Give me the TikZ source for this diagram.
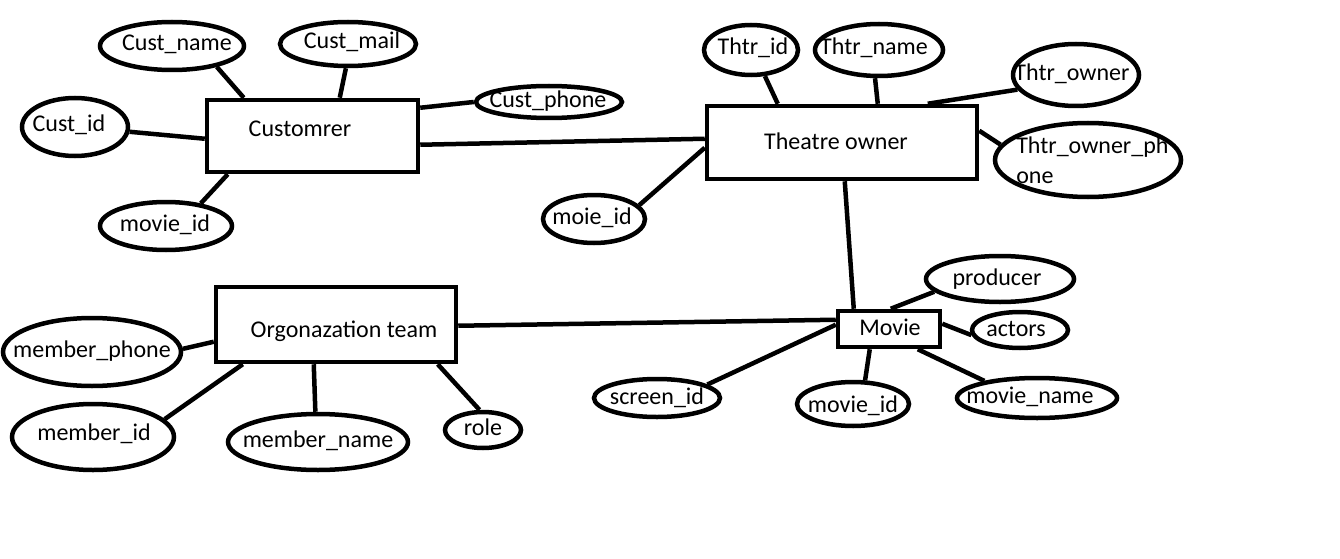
\documentclass[tikz,border=0pt]{standalone}
\usepackage{fontspec}
\setmainfont{Carlito}
\usetikzlibrary{shapes.geometric}
\begin{document}
\begin{tikzpicture}[x=1pt,y=-1pt,line width=4.5pt,
  attr/.style={draw,ellipse,inner sep=0pt,line width=4.5pt},
  ent/.style={draw,rectangle,inner sep=0pt,line width=4.5pt},
  txt/.style={inner sep=0pt,font=\fontsize{24}{30}\selectfont},
  conn/.style={line width=4.5pt}]
\path[fill=white] (0,0) rectangle (1340,559);
\useasboundingbox (0,0) rectangle (1340,559);
% entities
\node[ent,minimum width=211pt,minimum height=72pt] (cust) at (312.5,136) {};
\node[ent,minimum width=270pt,minimum height=73pt] (thtr) at (842,142.5) {};
\node[ent,minimum width=240pt,minimum height=75pt] (org) at (336,324.5) {};
\node[ent,minimum width=102pt,minimum height=36pt] (movie) at (889,329) {};
\node[txt] (tcust) at (300,129) {Customrer};
\node[txt] (tthtr) at (836,141) {Theatre owner};
\node[txt] (torg) at (344,331) {Orgonazation team};
\node[txt] (tmovie) at (890,327) {Movie};
% attributes
\node[attr,minimum width=144pt,minimum height=48pt] (cname) at (172,46) {};
\node[attr,minimum width=136pt,minimum height=44pt] (cmail) at (348,44) {};
\node[attr,minimum width=146pt,minimum height=32pt] (cphone) at (549,102) {};
\node[attr,minimum width=106pt,minimum height=58pt] (cid) at (75,127) {};
\node[attr,minimum width=132pt,minimum height=48pt] (cmid) at (166,226) {};
\node[attr,minimum width=102pt,minimum height=48pt] (moie) at (594,219) {};
\node[attr,minimum width=94pt,minimum height=50pt] (tid) at (751,50) {};
\node[attr,minimum width=128pt,minimum height=52pt] (tname) at (879,50) {};
\node[attr,minimum width=126pt,minimum height=62pt] (towner) at (1076,75) {};
\node[attr,minimum width=186pt,minimum height=74pt] (tophone) at (1088,160) {};
\node[attr,minimum width=178pt,minimum height=68pt] (mphone) at (92,352) {};
\node[attr,minimum width=162pt,minimum height=66pt] (mid) at (93,437) {};
\node[attr,minimum width=180pt,minimum height=56pt] (mname) at (318,442) {};
\node[attr,minimum width=76pt,minimum height=36pt] (role) at (483,430) {};
\node[attr,minimum width=148pt,minimum height=46pt] (prod) at (1000,279) {};
\node[attr,minimum width=96pt,minimum height=36pt] (actors) at (1020,330) {};
\node[attr,minimum width=160pt,minimum height=40pt] (mvname) at (1037,398) {};
\node[attr,minimum width=112pt,minimum height=44pt] (mvid) at (853,404) {};
\node[attr,minimum width=126pt,minimum height=38pt] (scr) at (657,398) {};
% attribute texts
\node[txt] (lcname) at (177,44) {Cust\_name};
\node[txt] (lcmail) at (352,42) {Cust\_mail};
\node[txt] (lcphone) at (548,101) {Cust\_phone};
\node[txt] (lcid) at (69,125) {Cust\_id};
\node[txt] (lcmid) at (165,225) {movie\_id};
\node[txt] (lmoie) at (592,218) {moie\_id};
\node[txt] (ltid) at (753,48) {Thtr\_id};
\node[txt] (ltname) at (874,48) {Thtr\_name};
\node[txt] (ltowner) at (1072,74) {Thtr\_owner};
\node[txt,anchor=west,align=left] (ltophone) at (1014,160) {Thtr\_owner\_ph\\one};
\node[txt] (lmphone) at (92,351) {member\_phone};
\node[txt] (lmid) at (94,434) {member\_id};
\node[txt] (lmname) at (318,441) {member\_name};
\node[txt] (lrole) at (483,427) {role};
\node[txt] (lprod) at (997,279) {producer};
\node[txt] (lactors) at (1016,329) {actors};
\node[txt] (lmvname) at (1030,397) {movie\_name};
\node[txt] (lmvid) at (853,406) {movie\_id};
\node[txt] (lscr) at (657,398) {screen\_id};
% connectors
\draw[conn] (cname.-25) -- ([xshift=39pt]cust.north west);
\draw[conn] (cmail.-95) -- ([xshift=135pt]cust.north west);
\draw[conn] (cphone.180) -- ([yshift=-10pt]cust.north east);
\draw[conn] (cid.-5) -- ([yshift=-41pt]cust.north west);
\draw[conn] (cmid.33) -- ([xshift=23pt]cust.south west);
\draw[conn] ([yshift=-47pt]cust.north east) -- ([yshift=-35pt]thtr.north west);
\draw[conn] (moie.17) -- ([yshift=-44pt]thtr.north west);
\draw[conn] (tid.-62) -- ([xshift=73pt]thtr.north west);
\draw[conn] (tname.-98) -- ([xshift=173pt]thtr.north west);
\draw[conn] (towner.-166) -- ([xshift=223pt]thtr.north west);
\draw[conn] (tophone.170) -- ([yshift=-27pt]thtr.north east);
\draw[conn] ([xshift=140pt]thtr.south west) -- ([xshift=18pt]movie.north west);
\draw[conn] ([yshift=-41pt]org.north east) -- ([yshift=-11pt]movie.north west);
\draw[conn] (mphone.2) -- ([yshift=-57pt]org.north west);
\draw[conn] (mid.14) -- ([xshift=29pt]org.south west);
\draw[conn] (mname.95) -- ([xshift=100pt]org.south west);
\draw[conn] (role.100) -- ([xshift=224pt]org.south west);
\draw[conn] (prod.-169) -- ([xshift=55pt]movie.north west);
\draw[conn] (actors.-174) -- ([yshift=-15pt]movie.north east);
\draw[conn] (mvname.162) -- ([xshift=82pt]movie.south west);
\draw[conn] (mvid.63) -- ([xshift=34pt]movie.south west);
\draw[conn] (scr.15) -- ([yshift=-16pt]movie.north west);
\end{tikzpicture}
\end{document}
